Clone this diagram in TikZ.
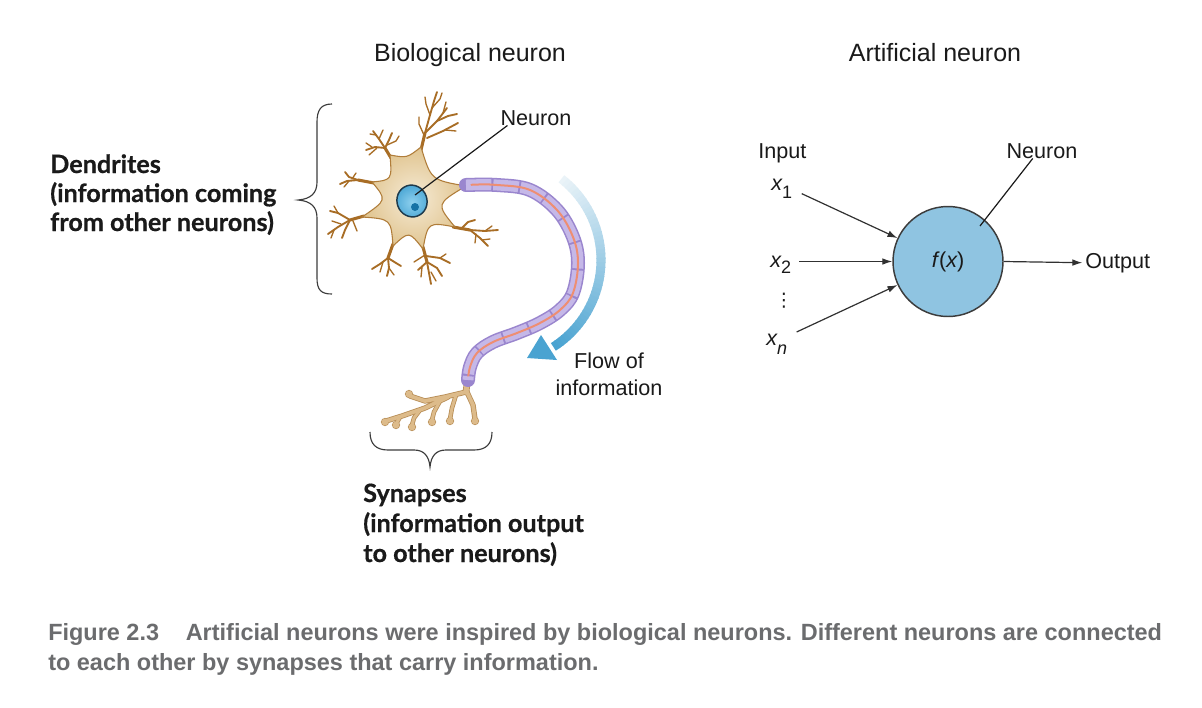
\documentclass[tikz,border=0pt]{standalone}
\usepackage{fontspec}
\setmainfont{Liberation Sans}
\newfontfamily\latofam{Lato}[BoldFeatures={FakeBold=0.6}]
\newfontfamily\djv{DejaVu Sans}
\usetikzlibrary{calc,arrows.meta}
\definecolor{dendc}{HTML}{A86D25}
\definecolor{somain}{HTML}{F6EBD6}
\definecolor{somaout}{HTML}{E0C48F}
\definecolor{somab}{HTML}{B07D3A}
\definecolor{nucin}{HTML}{8ED0EE}
\definecolor{nucout}{HTML}{4FA9D6}
\definecolor{nucb}{HTML}{1E3A4C}
\definecolor{nucl}{HTML}{1672A5}
\definecolor{axb}{HTML}{9A86CE}
\definecolor{axf}{HTML}{C5B8E8}
\definecolor{axc}{HTML}{EE8E72}
\definecolor{termf}{HTML}{DDBB8A}
\definecolor{termb}{HTML}{B88E57}
\definecolor{flowl}{HTML}{EAF3F8}
\definecolor{flowc}{HTML}{4AA3D1}
\definecolor{cellf}{HTML}{8FC4E1}
\definecolor{capc}{HTML}{6B6C6E}
\definecolor{inkc}{HTML}{1A1A1A}
\newcommand\ttlfnt{\fontsize{18.75}{22}\selectfont}
\newcommand\labfnt{\fontsize{16.2}{19}\selectfont}
\newcommand\subfnt{\fontsize{13.5}{16}\selectfont}
\newcommand\bldfnt{\latofam\bfseries\fontsize{18.9}{22}\selectfont}
\newcommand\capfnt{\bfseries\fontsize{17.6}{22}\selectfont}
\newcommand\sbs[2]{\raisebox{-#1}{\subfnt #2}}
\begin{document}
\begin{tikzpicture}[x=0.75pt,y=-0.75pt,
  ttl/.style={font=\ttlfnt, text=inkc, inner sep=0pt, anchor=base},
  lab/.style={font=\labfnt, text=inkc, inner sep=0pt},
  bld/.style={font=\bldfnt, text=inkc, inner sep=0pt, anchor=base west},
  capt/.style={font=\capfnt, text=capc, inner sep=0pt, anchor=base west},
  dtrunk/.style={draw=dendc, line width=2.3pt, line cap=round, line join=round},
  dbranch/.style={draw=dendc, line width=1.4pt, line cap=round, line join=round},
  dtwig/.style={draw=dendc, line width=1pt, line cap=round, line join=round},
  brace/.style={draw=inkc!85, line width=0.85pt},
  arr/.style={draw=inkc!90, line width=0.9pt, -{Latex[length=7.5pt,width=5pt]}},
  pointer/.style={draw=inkc, line width=0.9pt},
  cell/.style={circle, draw=inkc!85, fill=cellf, line width=1.1pt, minimum size=82.5pt, inner sep=0pt, font=\labfnt, text=inkc}
]
\fill[white] (0,0) rectangle (1202,707);
\useasboundingbox (0,0) rectangle (1202,707);

% ---------- titles ----------
\node[ttl] (tbio) at (470,61) {Biological neuron};
\node[ttl] (tart) at (935,61) {Artificial neuron};

% ---------- dendrites ----------
% top-right
\draw[dtrunk] (421,150) -- (425,133);
\draw[dbranch] (425,133) -- (430,115) -- (434,101) -- (437,92);
\draw[dtwig] (430,115) -- (426,104) -- (425,97);
\draw[dtwig] (432,108) -- (440,99) -- (442,93);
\draw[dbranch] (425,133) -- (437,121) -- (447,108);
\draw[dtwig] (443,113) -- (446,102);
\draw[dbranch] (437,121) -- (448,116) -- (457,114);
\draw[dbranch] (427,138) -- (443,131) -- (458,123);
\draw[dtwig] (445,130) -- (456,131);
\draw[dtwig] (424,135) -- (419,124) -- (419,117);
% top-left
\draw[dtrunk] (391,158) -- (385,148);
\draw[dbranch] (385,148) -- (379,139) -- (373,131);
\draw[dtwig] (379,139) -- (383,130);
\draw[dtwig] (376,135) -- (370,134);
\draw[dbranch] (385,148) -- (389,140) -- (392,133);
\draw[dtwig] (387,145) -- (396,141) -- (399,136);
\draw[dbranch] (385,148) -- (375,147) -- (366,150);
\draw[dtwig] (377,148) -- (369,155);
\draw[dtwig] (372,147) -- (366,143);
% left
\draw[dtrunk] (374,183) -- (358,180);
\draw[dbranch] (358,180) -- (349,177) -- (345,172);
\draw[dbranch] (358,180) -- (347,181) -- (340,184);
\draw[dtwig] (352,179) -- (356,173);
\draw[dtwig] (349,181) -- (344,187);
% lower-left
\draw[dtrunk] (364,216) -- (350,220);
\draw[dbranch] (350,220) -- (338,213) -- (330,211);
\draw[dtwig] (338,213) -- (334,206);
\draw[dbranch] (350,220) -- (338,227) -- (328,234);
\draw[dtwig] (341,224) -- (332,221);
\draw[dtwig] (334,230) -- (331,238);
\draw[dbranch] (350,220) -- (345,230) -- (342,238);
\draw[dtwig] (353,221) -- (357,231);
% bottom-left
\draw[dtrunk] (393,244) -- (388,258);
\draw[dbranch] (388,258) -- (380,264) -- (372,269);
\draw[dtwig] (383,262) -- (380,272);
\draw[dbranch] (388,258) -- (389,268) -- (387,276);
\draw[dtwig] (389,268) -- (394,275);
\draw[dbranch] (388,258) -- (396,263) -- (401,266);
% bottom-right
\draw[dtrunk] (423,247) -- (427,262);
\draw[dbranch] (427,262) -- (431,284);
\draw[dbranch] (427,262) -- (418,270);
\draw[dtwig] (425,255) -- (414,262);
\draw[dtwig] (422,267) -- (421,277);
\draw[dbranch] (427,262) -- (437,268) -- (442,276);
\draw[dbranch] (426,256) -- (440,258) -- (450,263);
\draw[dtwig] (440,258) -- (446,254);
\draw[dtwig] (431,272) -- (436,281);
% right-lower
\draw[dtrunk] (453,227) -- (470,230);
\draw[dbranch] (470,230) -- (485,231) -- (498,230);
\draw[dtwig] (485,231) -- (492,226);
\draw[dbranch] (470,230) -- (480,238) -- (488,246);
\draw[dtwig] (476,234) -- (475,243);
\draw[dtwig] (482,240) -- (490,239);
\draw[dbranch] (462,228) -- (468,222) -- (475,220);

% ---------- soma ----------
\path[draw=somab, line width=0.8pt, inner color=somain, outer color=somaout, shading=radial]
  (421,147) .. controls (431,180) .. (466,186)
  .. controls (436,204) .. (455,227)
  .. controls (428,222) .. (423,249)
  .. controls (409,231) .. (393,246)
  .. controls (391,219) .. (362,217)
  .. controls (387,200) .. (372,182)
  .. controls (392,180) .. (390,155)
  .. controls (407,158) .. (421,147) -- cycle;

% nucleus
\shadedraw[draw=nucb, line width=1.1pt, inner color=nucin, outer color=nucout,
  rotate around={20:(412,201)}] (412,201) ellipse [x radius=15, y radius=16];
\fill[nucl] (415,207) circle [radius=4];

% ---------- axon terminal ----------
\foreach \col/\ex in {termb/1.2,termf/0}{
  \draw[draw=\col, line width={3.8pt+\ex pt}, line cap=round, line join=round] (468,376) -- (466,392);
  \draw[draw=\col, line width={2.8pt+\ex pt}, line cap=round, line join=round]
    (466,392) -- (445,397) -- (425,401) -- (410,396)
    (448,397) -- (425,408) -- (402,416) -- (386,421)
    (467,392) -- (473,405) -- (475,419);
  \draw[draw=\col, line width={2.2pt+\ex pt}, line cap=round, line join=round]
    (420,410) -- (414,418) -- (412,425)
    (440,401) -- (434,412) -- (432,420)
    (456,395) -- (452,408) -- (450,419)
    (400,417) -- (396,424);
  \foreach \kx/\ky in {409/394,385/422,412/427,432/422,450/421,475/421,396/425}{
    \fill[\col] (\kx,\ky) circle [radius={3.4+\ex*0.6}];
  }
}

% ---------- axon ----------
\def\axonpath{plot[smooth, tension=0.6] coordinates {(466,185) (497,185) (530,190) (557,210) (573,237) (578,263) (573,293) (560,310) (540,323) (517,333) (493,342) (477,353) (470,367) (468,380)}}
\draw[draw=axb, line width=10.5pt, line cap=round] \axonpath;
\draw[draw=axf, line width=8.2pt, dash pattern=on 19pt off 1.5pt] \axonpath;
\draw[draw=axc, line width=1.5pt, line cap=round, shorten <=4pt, shorten >=4pt] \axonpath;

% ---------- flow of information arrow ----------
\foreach \i in {0,...,44}{
  \pgfmathsetmacro\aa{-52+\i*109/45}
  \pgfmathsetmacro\bb{\aa+109/45+0.5}
  \pgfmathsetmacro\cc{\i*100/44}
  \draw[draw=flowc!\cc!flowl, line width=6.8pt]
    plot[domain=\aa:\bb, samples=4] ({498+103*cos(\x)},{260+103*sin(\x)});
}
\fill[flowc] (527,358) -- (541,335) -- (557,360) -- cycle;
\node[lab, anchor=base] (flow1) at (609,368) {Flow of};
\node[lab, anchor=base] (flow2) at (609,395) {information};

% ---------- braces ----------
\draw[brace] (332,104) .. controls (321,104) and (317,110) .. (317,122) -- (317,182)
  .. controls (317,193) and (311,199) .. (298,200)
  .. controls (311,201) and (317,207) .. (317,218) -- (317,278)
  .. controls (317,290) and (321,294) .. (332,294);
\draw[brace] (370,432) .. controls (370,444) and (376,450) .. (388,450) -- (414,450)
  .. controls (424,450) and (429,456) .. (430,467)
  .. controls (431,456) and (436,450) .. (446,450) -- (474,450)
  .. controls (486,450) and (492,444) .. (492,432);

% ---------- bio labels ----------
\node[lab, anchor=base] (nlabb) at (536,125) {Neuron};
\coordinate (nucp) at (415,195);
\draw[pointer] ($(nlabb.south west)!0.1!(nlabb.south east)$) -- (nucp);

\node[bld] (dend1) at (50,173) {Dendrites};
\node[bld] (dend2) at (50,202) {(information coming};
\node[bld] (dend3) at (50,231) {from other neurons)};

\node[bld] (syn1) at (363,502) {Synapses};
\node[bld] (syn2) at (363,532) {(information output};
\node[bld] (syn3) at (363,562) {to other neurons)};

% ---------- artificial neuron ----------
\node[cell] (fx) at (948,261.5) {{\itshape f}\kern1pt({\itshape x})};
\node[lab, anchor=base west] (inp) at (758,158) {Input};
\node[lab, anchor=base] (nlaba) at (1042,158) {Neuron};
\coordinate (ain) at (980,226);
\draw[pointer] ($(nlaba.south west)!0.37!(nlaba.south east)$) -- (ain);

\node[lab, anchor=base west] (x1) at (771,190) {{\itshape x}\sbs{6pt}{1}};
\node[lab, anchor=base west] (x2) at (770,267) {{\itshape x}\sbs{4.5pt}{2}};
\node[lab] (vd) at (784,301) {{\djv\fontsize{14}{16}\selectfont ⋮}};
\node[lab, anchor=base west] (xn) at (766,345) {{\itshape x}\sbs{7pt}{\itshape n}};
\node[lab, anchor=base west] (out) at (1085,268) {Output};

\draw[arr] ([xshift=7pt,yshift=-4pt]x1.east) -- (fx);
\draw[arr] ([xshift=6pt]x2.east |- fx.west) -- (fx.west);
\draw[arr] ([xshift=7pt,yshift=9pt]xn.east) -- (fx);
\draw[arr] (fx.east) -- ([xshift=-2pt]out.west);

% ---------- caption ----------
\node[capt] (cap1) at (48,640) {Figure 2.3\hspace{20pt}Artificial neurons were inspired by biological neurons. Different neurons are connected};
\node[capt] (cap2) at (48,670) {to each other by synapses that carry information.};
\end{tikzpicture}
\end{document}
